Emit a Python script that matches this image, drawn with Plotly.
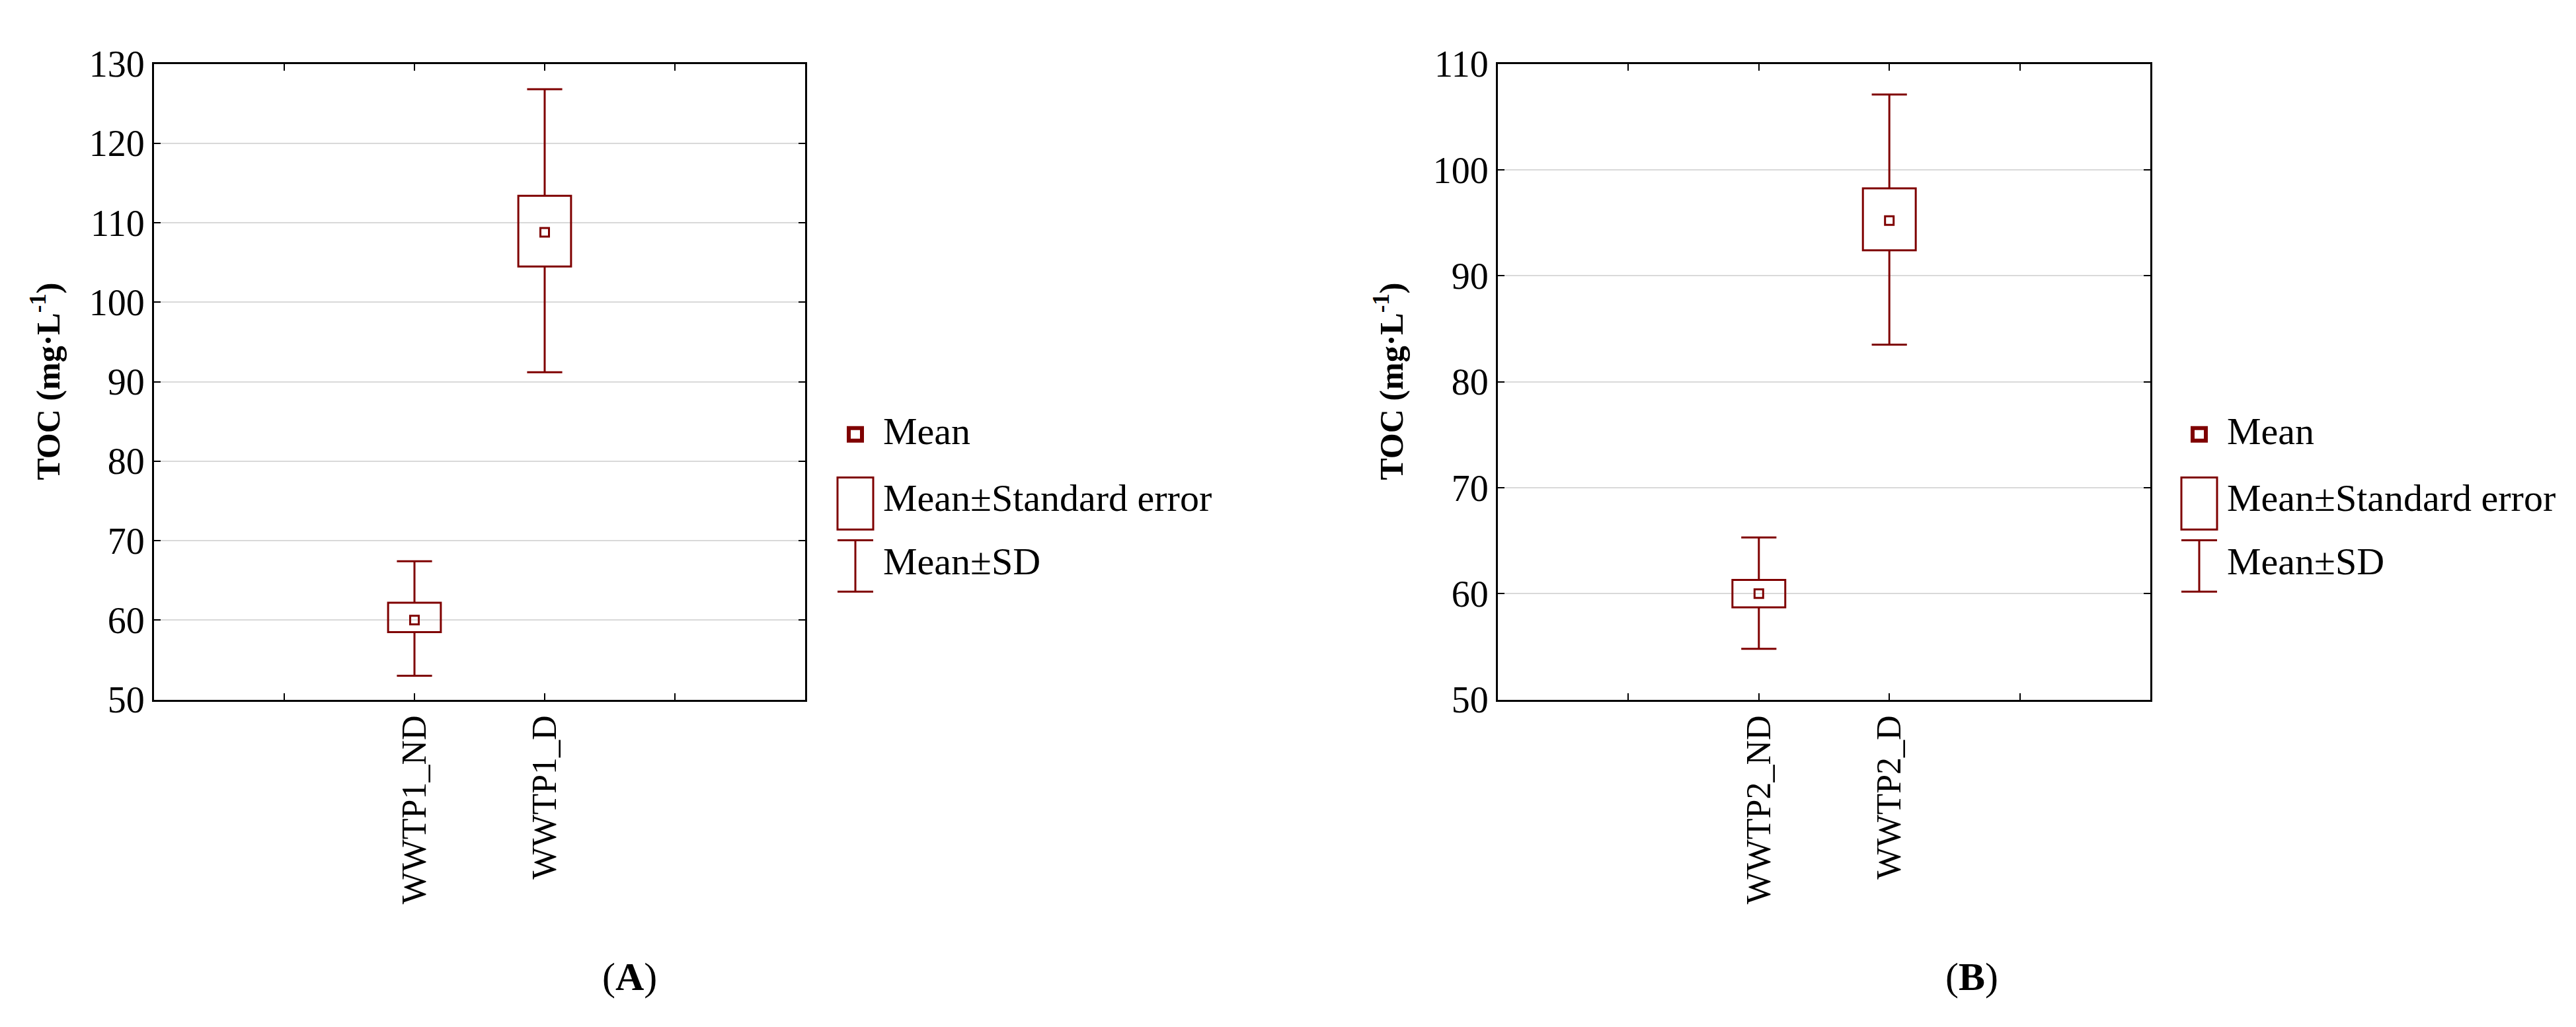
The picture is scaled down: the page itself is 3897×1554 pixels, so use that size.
import plotly.graph_objects as go

W, H = 3897, 1554
RED = "#7f0000"
FONT = "Liberation Serif"

cats_a = ["WWTP1_ND", "WWTP1_D"]
mean_a = [60.0, 108.8]
se_lo_a = [58.5, 104.5]
se_hi_a = [62.2, 113.4]
sd_lo_a = [53.0, 91.2]
sd_hi_a = [67.4, 126.8]

cats_b = ["WWTP2_ND", "WWTP2_D"]
mean_b = [60.0, 95.2]
se_lo_b = [58.7, 92.4]
se_hi_b = [61.3, 98.25]
sd_lo_b = [54.8, 83.5]
sd_hi_b = [65.3, 107.1]

yrange_a = [50, 130]
yrange_b = [50, 110]
ytick_a = [50, 60, 70, 80, 90, 100, 110, 120, 130]
ytick_b = [50, 60, 70, 80, 90, 100, 110]

legend_labels = ["Mean", "Mean±Standard error", "Mean±SD"]
panel_labels = ["A", "B"]
ytitle = "<b>TOC (mg·L<sup>-1</sup>)</b>"

fig = go.Figure()

def add_panel(cats, mean, se_lo, se_hi, sd_lo, sd_hi, xa, ya):
    xs = [i + 2 for i in range(len(cats))]
    wx, wy = [], []
    for x, a, b, c, d in zip(xs, sd_lo, se_lo, se_hi, sd_hi):
        wx += [x, x, None, x, x, None]
        wy += [a, b, None, c, d, None]
    fig.add_trace(go.Scatter(x=wx, y=wy, mode="lines", line=dict(color=RED, width=3),
                             xaxis=xa, yaxis=ya, showlegend=False, hoverinfo="skip"))
    fig.add_trace(go.Scatter(x=xs + xs, y=sd_lo + sd_hi, mode="markers",
                             marker=dict(symbol="line-ew", size=38, line=dict(color=RED, width=3)),
                             xaxis=xa, yaxis=ya, showlegend=False))
    fig.add_trace(go.Bar(x=xs, y=[h - l for h, l in zip(se_hi, se_lo)], base=se_lo, width=0.405,
                         marker=dict(color="rgba(0,0,0,0)", line=dict(color=RED, width=3)),
                         xaxis=xa, yaxis=ya, showlegend=False))
    fig.add_trace(go.Scatter(x=xs, y=mean, mode="markers",
                             marker=dict(symbol="square-open", size=13, color=RED, line=dict(color=RED, width=3)),
                             xaxis=xa, yaxis=ya, showlegend=False))
    return xs

add_panel(cats_a, mean_a, se_lo_a, se_hi_a, sd_lo_a, sd_hi_a, "x", "y")
add_panel(cats_b, mean_b, se_lo_b, se_hi_b, sd_lo_b, sd_hi_b, "x2", "y2")

ydom = [1 - 1063 / H, 1 - 61 / H]
common_x = dict(range=[0, 5], tickvals=[1, 2, 3, 4], showgrid=False, zeroline=False,
                showline=True, linecolor="black", linewidth=3, mirror="ticks",
                ticks="inside", ticklen=10, tickwidth=2, tickcolor="black",
                tickangle=-90, tickfont=dict(family=FONT, size=52, color="black"))
common_y = dict(showgrid=True, gridcolor="#d9d9d9", gridwidth=2, zeroline=False,
                showline=True, linecolor="black", linewidth=3, mirror="ticks",
                ticks="inside", ticklen=10, tickwidth=2, tickcolor="black",
                tickfont=dict(family=FONT, size=56, color="black"))

fig.update_layout(
    width=W, height=H, margin=dict(l=0, r=0, t=0, b=0),
    paper_bgcolor="white", plot_bgcolor="white", barmode="overlay",
    xaxis=dict(domain=[225 / W, 1210 / W], ticktext=[" "] + cats_a + [" "], anchor="y", **common_x),
    xaxis2=dict(domain=[2258 / W, 3245 / W], ticktext=[" "] + cats_b + [" "], anchor="y2", **common_x),
    yaxis=dict(domain=ydom, range=yrange_a, tickvals=ytick_a, anchor="x", **common_y),
    yaxis2=dict(domain=ydom, range=yrange_b, tickvals=ytick_b, anchor="x2", **common_y),
)

shapes, annots = [], []
for off, title_x, lab, lab_x in [(0, 62, panel_labels[0], 944), (2033, 2094, panel_labels[1], 2975)]:
    annots.append(dict(x=title_x / W, y=1 - 562 / H, xref="paper", yref="paper", text=ytitle,
                       textangle=-90, showarrow=False, xanchor="center", yanchor="middle",
                       font=dict(family=FONT, size=50, color="black")))
    annots.append(dict(x=lab_x / W, y=1 - 1500 / H, xref="paper", yref="paper",
                       text="(<b>%s</b>)" % lab, showarrow=False, xanchor="center", yanchor="middle",
                       font=dict(family=FONT, size=60, color="black")))
    cx = 1286 + off
    shapes.append(dict(type="rect", xref="paper", yref="paper", x0=(cx - 10) / W, x1=(cx + 10) / W,
                       y0=1 - 655 / H, y1=1 - 635 / H, line=dict(color=RED, width=6)))
    shapes.append(dict(type="rect", xref="paper", yref="paper", x0=(cx - 27) / W, x1=(cx + 27) / W,
                       y0=1 - 795 / H, y1=1 - 713 / H, line=dict(color=RED, width=3)))
    shapes.append(dict(type="line", xref="paper", yref="paper", x0=cx / W, x1=cx / W,
                       y0=1 - 893 / H, y1=1 - 812 / H, line=dict(color=RED, width=3)))
    for yy in (812, 893):
        shapes.append(dict(type="line", xref="paper", yref="paper", x0=(cx - 27) / W, x1=(cx + 27) / W,
                           y0=1 - yy / H, y1=1 - yy / H, line=dict(color=RED, width=3)))
    for txt, yy in zip(legend_labels, [640, 745, 845]):
        annots.append(dict(x=(1326 + off) / W, y=1 - yy / H, xref="paper", yref="paper", text=txt,
                           xanchor="left", yanchor="middle", showarrow=False,
                           font=dict(family=FONT, size=58, color="black")))

fig.update_layout(shapes=shapes, annotations=annots)
fig.write_html("out.html")
